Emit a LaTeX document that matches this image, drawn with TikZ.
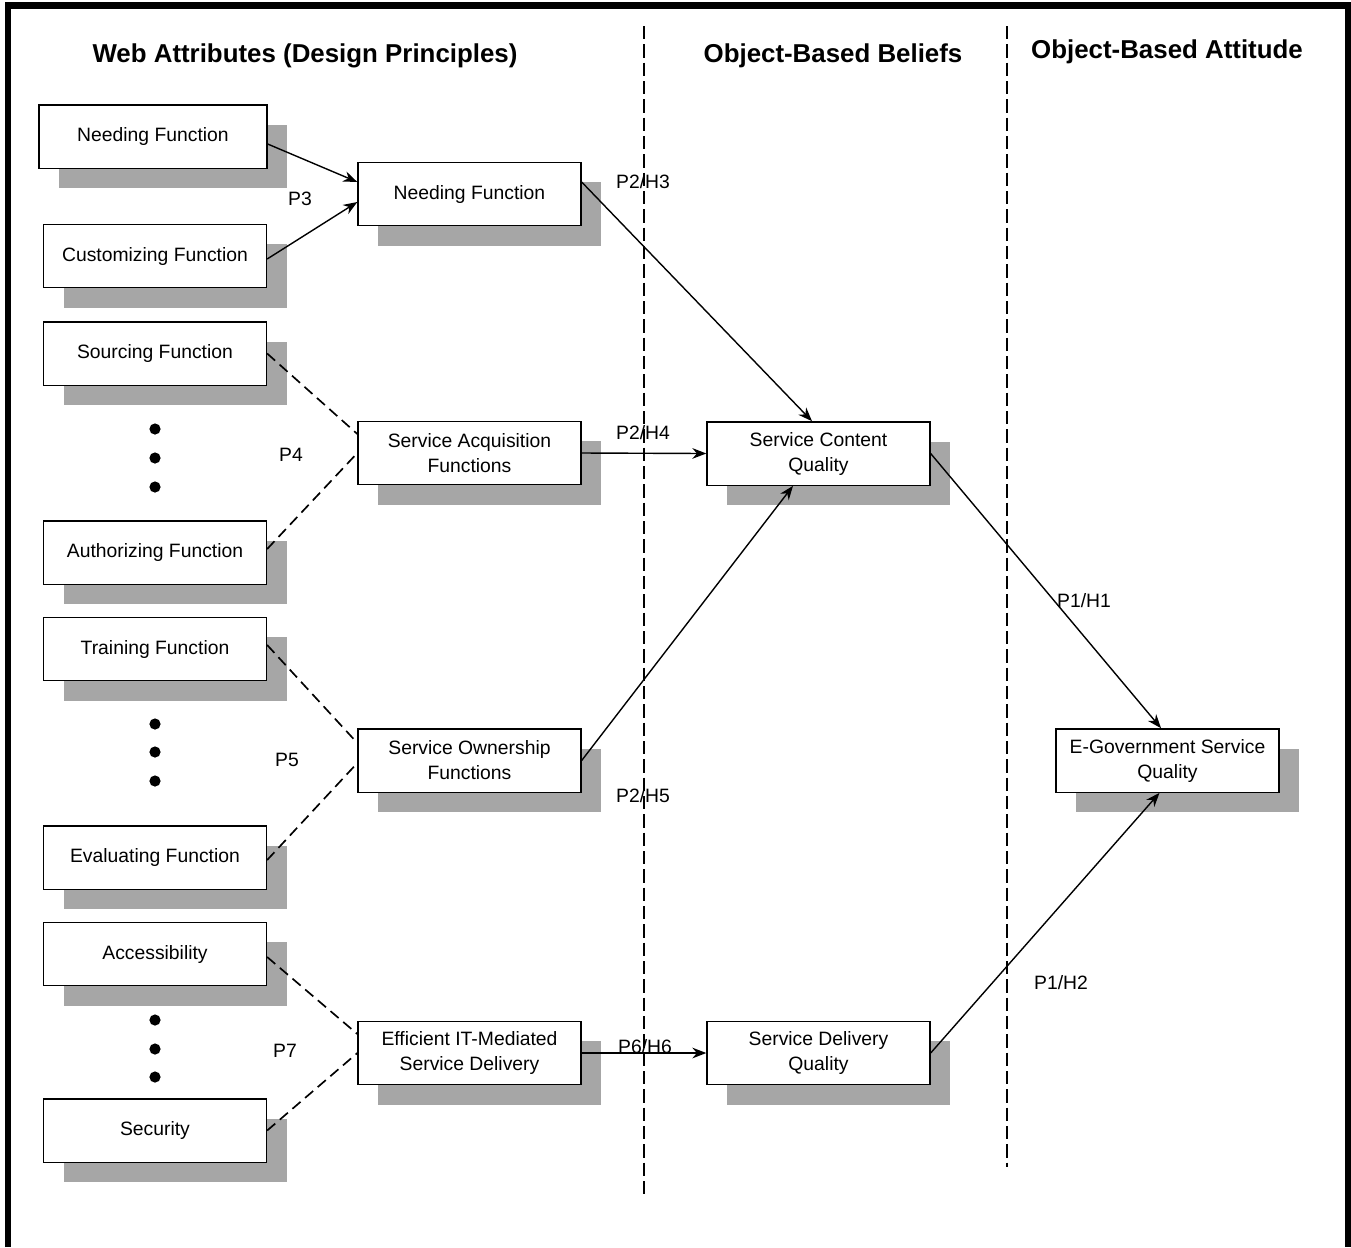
\documentclass[tikz,border=0pt]{standalone}
\usepackage{fontspec}
\setmainfont{Liberation Sans}
\usetikzlibrary{arrows.meta, calc, shadows}
\definecolor{shadowgray}{RGB}{166,166,166}

\begin{document}
\begin{tikzpicture}[x=0.75pt, y=-0.75pt, >={Stealth[length=10.5pt, width=8pt]},
  box/.style={draw, line width=1pt, fill=white, minimum width=167.25pt, minimum height=47.5pt,
    align=center, inner sep=2pt, font=\fontsize{14.5}{18.75}\selectfont,
    drop shadow={shadow xshift=15pt, shadow yshift=-15pt, fill=shadowgray, opacity=1}},
  colhead/.style={font=\fontsize{19.4}{23}\selectfont\bfseries},
  lbl/.style={font=\fontsize{14.5}{17}\selectfont, inner sep=0pt},
  link/.style={->, line width=1.05pt},
  weak/.style={line width=1.25pt, dash pattern=on 8pt off 4.5pt},
  divider/.style={line width=1.9pt, dash pattern=on 10pt off 3.75pt}]

  % --- moldura e divisores de coluna ---
  \useasboundingbox (0,0) rectangle (1351,1247);
  \draw[line width=5pt, line join=miter] (8,1247) -- (8,5.5) -- (1348,5.5) -- (1348,1247);
  \draw[divider] (644,26) -- (644,1198);
  \draw[divider] (1007,26) -- (1007,1167);

  % --- titulos das colunas ---
  \node[colhead] (hWeb) at (305,55.5) {Web Attributes (Design Principles)};
  \node[colhead] (hBel) at (833,55.5) {Object-Based Beliefs};
  \node[colhead] (hAtt) at (1167,52) {Object-Based Attitude};

  % --- atributos web (coluna esquerda) ---
  \node[box, minimum width=171pt] (needL) at (153,136.5) {Needing Function};
  \node[box] (custom) at (155,256)    {Customizing Function};
  \node[box] (source) at (155,353.5)  {Sourcing Function};
  \node[box] (author) at (155,552.5)  {Authorizing Function};
  \node[box] (train)  at (155,649)    {Training Function};
  \node[box] (evalf)  at (155,857.5)  {Evaluating Function};
  \node[box] (access) at (155,954)    {Accessibility};
  \node[box] (secur)  at (155,1130.5) {Security};

  % reticencias entre os grupos
  \foreach \y in {429,458,487, 724,752,781, 1020,1049,1077} {
    \fill (155,\y) circle (4.2pt);
  }

  % --- funcoes agregadas (coluna do meio) ---
  \node[box] (needM)   at (469.5,194)  {Needing Function};
  \node[box] (acquire) at (469.5,453)  {Service Acquisition\\Functions};
  \node[box] (own)     at (469.5,760.5) {Service Ownership\\Functions};
  \node[box] (deliv)   at (469.5,1053) {Efficient IT-Mediated\\Service Delivery};

  % --- crencas e atitude ---
  \node[box] (content) at (818.5,453.5) {Service Content\\Quality};
  \node[box] (dqual)   at (818.5,1053)  {Service Delivery\\Quality};
  \node[box] (egov)    at (1167.5,760.5) {E-Government Service\\Quality};

  % --- rotulos das proposicoes ---
  \node[lbl] (p3)   at (300,199)   {P3};
  \node[lbl] (p4)   at (291,455)   {P4};
  \node[lbl] (p5)   at (287,760)   {P5};
  \node[lbl] (p7)   at (285,1051)  {P7};
  \node[lbl] (p2h3) at (643,182)   {P2/H3};
  \node[lbl] (p2h4) at (643,433)   {P2/H4};
  \node[lbl] (p2h5) at (643,796)   {P2/H5};
  \node[lbl] (p6h6) at (645,1047)  {P6/H6};
  \node[lbl] (p1h1) at (1084,601)  {P1/H1};
  \node[lbl] (p1h2) at (1061,983)  {P1/H2};

  % --- ligacoes ---
  \draw[link] ($(needL.east)+(0,7.5)$) -- ($(needM.west)+(0,-12)$);
  \draw[link] ($(custom.east)+(0,3)$) -- ($(needM.west)+(0,8)$);
  \draw[weak] (source.east) -- ($(acquire.west)+(0,-19)$);
  \draw[weak] ($(author.east)+(0,-3.5)$) -- (acquire.west);
  \draw[weak] ($(train.east)+(0,-4)$) -- ($(own.west)+(0,-17.5)$);
  \draw[weak] ($(evalf.east)+(0,2.5)$) -- ($(own.west)+(0,2.5)$);
  \draw[weak] ($(access.east)+(0,3)$) -- ($(deliv.west)+(0,-19)$);
  \draw[weak] (secur.east) -- (deliv.west);

  \draw[link] ($(needM.east)+(0,-12)$) -- ($(content.north)+(-6.5,0)$);
  \draw[link] (acquire.east) -- (content.west);
  \draw[link] (own.east) -- ($(content.south)+(-25.5,0)$);
  \draw[link] (deliv.east) -- (dqual.west);
  \draw[link] (content.east) -- ($(egov.north)+(-6.5,0)$);
  \draw[link] (dqual.east) -- ($(egov.south)+(-8,0)$);

\end{tikzpicture}
\end{document}
